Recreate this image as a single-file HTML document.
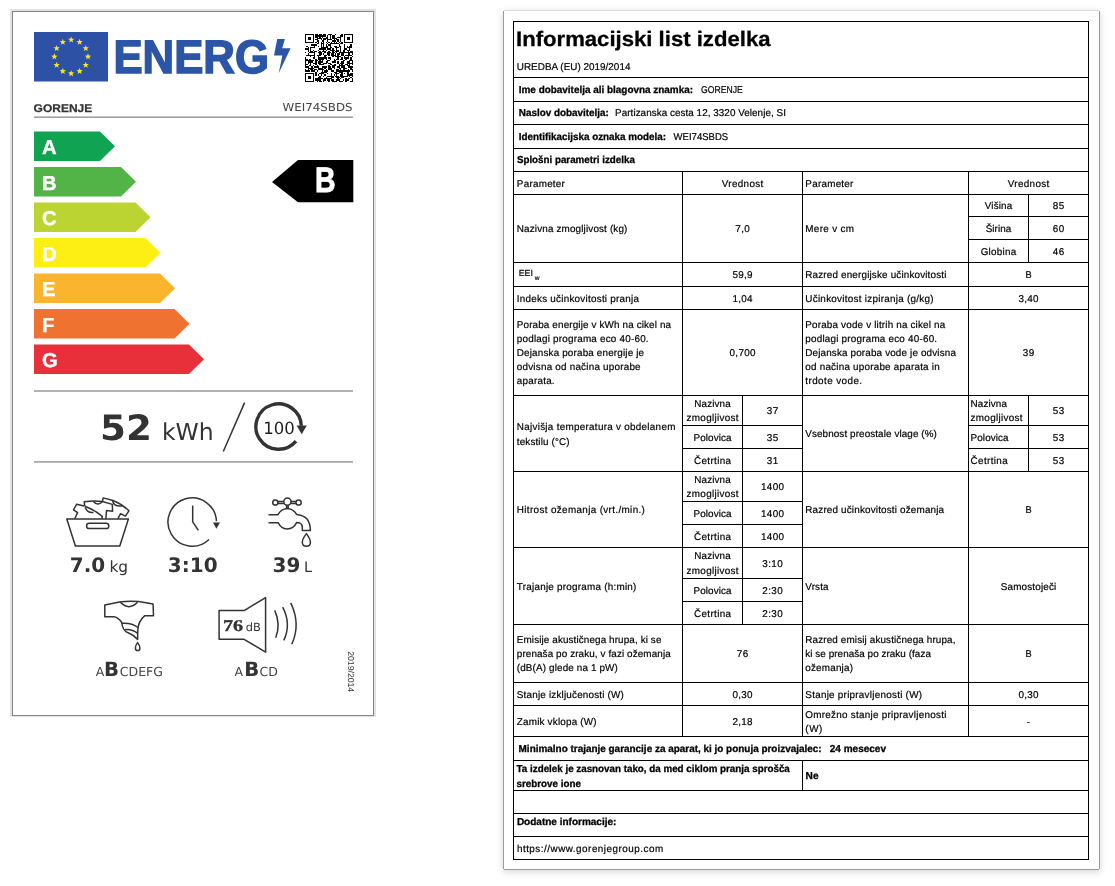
<!DOCTYPE html>
<html lang="sl">
<head>
<meta charset="utf-8">
<title>Energijska nalepka in informacijski list izdelka – GORENJE WEI74SBDS</title>
<style>
  html, body { margin: 0; padding: 0; background: #fff; }
  body { width: 1115px; height: 886px; position: relative; overflow: hidden; }
  .label-outer { position: absolute; left: 10px; top: 9px; width: 366px; height: 708px; box-sizing: border-box;
     border: 2px solid #e2e2e2; border-bottom-width: 1px; }
  .label-inner { position: absolute; left: 12px; top: 11px; width: 362px; height: 705px; box-sizing: border-box;
     border: 1px solid #858585; }
  .sheet { position: absolute; left: 504px; top: 11px; width: 595px; height: 858px; background: #fff;
     box-shadow: -1px 0 0 0 #9a9a9a, 1px 0 0 0 #9a9a9a, 0 1px 0 0 #9a9a9a, 0 -1px 0 0 #d8d8d8,
                 0 2px 7px 1px rgba(0,0,0,0.16); }
  svg.layer { will-change: transform; text-rendering: geometricPrecision; position: absolute; left: 0; top: 0; width: 1115px; height: 886px; overflow: visible; }
</style>
</head>
<body>
<div class="label-outer"></div>
<div class="label-inner"></div>
<div class="sheet"></div>
<svg class="layer" width="1115" height="886" viewBox="0 0 1115 886">
<g id="energy-label">
<rect x="34" y="32" width="74" height="49.5" fill="#2d52a5"/>
<g fill="#f5e62a"><polygon points="71.20,36.55 72.02,38.77 74.39,38.86 72.53,40.33 73.17,42.61 71.20,41.30 69.23,42.61 69.87,40.33 68.01,38.86 70.38,38.77"/><polygon points="79.60,38.80 80.42,41.02 82.79,41.12 80.93,42.58 81.57,44.86 79.60,43.55 77.63,44.86 78.27,42.58 76.41,41.12 78.78,41.02"/><polygon points="85.75,44.95 86.57,47.17 88.94,47.26 87.08,48.73 87.72,51.01 85.75,49.70 83.78,51.01 84.42,48.73 82.56,47.26 84.93,47.17"/><polygon points="88.00,53.35 88.82,55.57 91.19,55.66 89.33,57.13 89.97,59.41 88.00,58.10 86.03,59.41 86.67,57.13 84.81,55.66 87.18,55.57"/><polygon points="85.75,61.75 86.57,63.97 88.94,64.06 87.08,65.53 87.72,67.81 85.75,66.50 83.78,67.81 84.42,65.53 82.56,64.06 84.93,63.97"/><polygon points="79.60,67.90 80.42,70.12 82.79,70.21 80.93,71.68 81.57,73.96 79.60,72.65 77.63,73.96 78.27,71.68 76.41,70.21 78.78,70.12"/><polygon points="71.20,70.15 72.02,72.37 74.39,72.46 72.53,73.93 73.17,76.21 71.20,74.90 69.23,76.21 69.87,73.93 68.01,72.46 70.38,72.37"/><polygon points="62.80,67.90 63.62,70.12 65.99,70.21 64.13,71.68 64.77,73.96 62.80,72.65 60.83,73.96 61.47,71.68 59.61,70.21 61.98,70.12"/><polygon points="56.65,61.75 57.47,63.97 59.84,64.06 57.98,65.53 58.62,67.81 56.65,66.50 54.68,67.81 55.32,65.53 53.46,64.06 55.83,63.97"/><polygon points="54.40,53.35 55.22,55.57 57.59,55.66 55.73,57.13 56.37,59.41 54.40,58.10 52.43,59.41 53.07,57.13 51.21,55.66 53.58,55.57"/><polygon points="56.65,44.95 57.47,47.17 59.84,47.26 57.98,48.73 58.62,51.01 56.65,49.70 54.68,51.01 55.32,48.73 53.46,47.26 55.83,47.17"/><polygon points="62.80,38.80 63.62,41.02 65.99,41.12 64.13,42.58 64.77,44.86 62.80,43.55 60.83,44.86 61.47,42.58 59.61,41.12 61.98,41.02"/></g>
<text x="113.4" y="72.9" font-family="'Liberation Sans', Arial, sans-serif" font-weight="700" font-size="47" fill="#2b55a6" stroke="#2b55a6" stroke-width="1.5" textLength="155.5" lengthAdjust="spacingAndGlyphs">ENERG</text>
<polygon fill="#2b55a6" points="277.2,39 284.9,39 282.2,48.3 290.6,48.2 278.7,73.3 282.4,55.5 274,55.6"/>
<g transform="translate(305 34) scale(1.297)"><path d="M0 0h7v1h-7zM8 0h2v1h-2zM11 0h2v1h-2zM14 0h2v1h-2zM18 0h3v1h-3zM23 0h1v1h-1zM28 0h1v1h-1zM30 0h7v1h-7zM0 1h1v1h-1zM6 1h1v1h-1zM8 1h8v1h-8zM17 1h1v1h-1zM19 1h1v1h-1zM21 1h2v1h-2zM27 1h2v1h-2zM30 1h1v1h-1zM36 1h1v1h-1zM0 2h1v1h-1zM2 2h3v1h-3zM6 2h1v1h-1zM8 2h2v1h-2zM11 2h1v1h-1zM13 2h1v1h-1zM16 2h2v1h-2zM19 2h1v1h-1zM21 2h2v1h-2zM25 2h3v1h-3zM30 2h1v1h-1zM32 2h3v1h-3zM36 2h1v1h-1zM0 3h1v1h-1zM2 3h3v1h-3zM6 3h1v1h-1zM9 3h4v1h-4zM14 3h4v1h-4zM19 3h1v1h-1zM21 3h4v1h-4zM27 3h1v1h-1zM30 3h1v1h-1zM32 3h3v1h-3zM36 3h1v1h-1zM0 4h1v1h-1zM2 4h3v1h-3zM6 4h1v1h-1zM8 4h2v1h-2zM12 4h1v1h-1zM14 4h2v1h-2zM17 4h4v1h-4zM22 4h1v1h-1zM24 4h2v1h-2zM27 4h1v1h-1zM30 4h1v1h-1zM32 4h3v1h-3zM36 4h1v1h-1zM0 5h1v1h-1zM6 5h1v1h-1zM9 5h2v1h-2zM13 5h2v1h-2zM17 5h1v1h-1zM21 5h3v1h-3zM25 5h1v1h-1zM27 5h1v1h-1zM30 5h1v1h-1zM36 5h1v1h-1zM0 6h7v1h-7zM8 6h1v1h-1zM10 6h1v1h-1zM12 6h1v1h-1zM14 6h1v1h-1zM16 6h1v1h-1zM18 6h1v1h-1zM20 6h1v1h-1zM22 6h1v1h-1zM24 6h1v1h-1zM26 6h1v1h-1zM28 6h1v1h-1zM30 6h7v1h-7zM9 7h2v1h-2zM12 7h3v1h-3zM17 7h1v1h-1zM19 7h7v1h-7zM27 7h2v1h-2zM5 8h4v1h-4zM12 8h1v1h-1zM14 8h1v1h-1zM16 8h1v1h-1zM18 8h2v1h-2zM26 8h1v1h-1zM30 8h1v1h-1zM35 8h1v1h-1zM1 9h1v1h-1zM7 9h1v1h-1zM10 9h1v1h-1zM12 9h1v1h-1zM14 9h1v1h-1zM16 9h2v1h-2zM19 9h1v1h-1zM22 9h3v1h-3zM26 9h2v1h-2zM30 9h1v1h-1zM32 9h1v1h-1zM34 9h2v1h-2zM2 10h1v1h-1zM4 10h4v1h-4zM12 10h6v1h-6zM19 10h2v1h-2zM23 10h3v1h-3zM27 10h1v1h-1zM30 10h1v1h-1zM32 10h4v1h-4zM0 11h3v1h-3zM4 11h1v1h-1zM11 11h5v1h-5zM17 11h3v1h-3zM21 11h1v1h-1zM24 11h1v1h-1zM27 11h1v1h-1zM30 11h2v1h-2zM34 11h1v1h-1zM2 12h1v1h-1zM4 12h1v1h-1zM6 12h1v1h-1zM10 12h1v1h-1zM14 12h1v1h-1zM16 12h1v1h-1zM19 12h4v1h-4zM24 12h2v1h-2zM27 12h1v1h-1zM29 12h2v1h-2zM32 12h3v1h-3zM2 13h1v1h-1zM4 13h2v1h-2zM7 13h2v1h-2zM11 13h1v1h-1zM13 13h3v1h-3zM18 13h1v1h-1zM21 13h1v1h-1zM23 13h3v1h-3zM27 13h1v1h-1zM29 13h2v1h-2zM33 13h1v1h-1zM35 13h2v1h-2zM0 14h1v1h-1zM3 14h5v1h-5zM10 14h3v1h-3zM15 14h1v1h-1zM17 14h3v1h-3zM21 14h2v1h-2zM24 14h1v1h-1zM26 14h11v1h-11zM2 15h1v1h-1zM7 15h1v1h-1zM11 15h2v1h-2zM14 15h1v1h-1zM17 15h2v1h-2zM20 15h2v1h-2zM23 15h1v1h-1zM25 15h2v1h-2zM28 15h2v1h-2zM33 15h2v1h-2zM36 15h1v1h-1zM1 16h7v1h-7zM9 16h3v1h-3zM15 16h2v1h-2zM18 16h1v1h-1zM20 16h4v1h-4zM25 16h1v1h-1zM28 16h2v1h-2zM31 16h5v1h-5zM4 17h1v1h-1zM7 17h1v1h-1zM10 17h1v1h-1zM15 17h1v1h-1zM21 17h1v1h-1zM23 17h5v1h-5zM30 17h1v1h-1zM33 17h1v1h-1zM36 17h1v1h-1zM0 18h1v1h-1zM6 18h2v1h-2zM10 18h7v1h-7zM18 18h2v1h-2zM25 18h1v1h-1zM28 18h1v1h-1zM30 18h4v1h-4zM35 18h1v1h-1zM0 19h2v1h-2zM3 19h2v1h-2zM8 19h1v1h-1zM10 19h5v1h-5zM16 19h1v1h-1zM19 19h1v1h-1zM22 19h1v1h-1zM24 19h2v1h-2zM27 19h2v1h-2zM31 19h1v1h-1zM35 19h1v1h-1zM0 20h7v1h-7zM8 20h2v1h-2zM11 20h1v1h-1zM13 20h1v1h-1zM17 20h2v1h-2zM22 20h2v1h-2zM29 20h2v1h-2zM34 20h3v1h-3zM0 21h1v1h-1zM2 21h4v1h-4zM8 21h1v1h-1zM10 21h4v1h-4zM16 21h2v1h-2zM21 21h3v1h-3zM25 21h1v1h-1zM28 21h2v1h-2zM32 21h3v1h-3zM36 21h1v1h-1zM0 22h1v1h-1zM2 22h1v1h-1zM4 22h1v1h-1zM6 22h3v1h-3zM10 22h2v1h-2zM14 22h3v1h-3zM18 22h2v1h-2zM25 22h1v1h-1zM27 22h3v1h-3zM32 22h5v1h-5zM0 23h2v1h-2zM4 23h1v1h-1zM8 23h1v1h-1zM11 23h4v1h-4zM19 23h2v1h-2zM22 23h2v1h-2zM26 23h1v1h-1zM28 23h1v1h-1zM31 23h2v1h-2zM34 23h1v1h-1zM36 23h1v1h-1zM0 24h1v1h-1zM3 24h2v1h-2zM6 24h1v1h-1zM9 24h1v1h-1zM18 24h1v1h-1zM21 24h3v1h-3zM26 24h5v1h-5zM32 24h3v1h-3zM0 25h3v1h-3zM5 25h1v1h-1zM7 25h4v1h-4zM13 25h4v1h-4zM18 25h2v1h-2zM21 25h2v1h-2zM25 25h2v1h-2zM28 25h3v1h-3zM33 25h4v1h-4zM2 26h5v1h-5zM10 26h4v1h-4zM15 26h1v1h-1zM18 26h3v1h-3zM22 26h1v1h-1zM26 26h2v1h-2zM29 26h3v1h-3zM35 26h1v1h-1zM0 27h1v1h-1zM2 27h1v1h-1zM4 27h2v1h-2zM7 27h2v1h-2zM10 27h5v1h-5zM16 27h1v1h-1zM18 27h3v1h-3zM24 27h2v1h-2zM27 27h1v1h-1zM29 27h2v1h-2zM33 27h1v1h-1zM35 27h2v1h-2zM0 28h4v1h-4zM5 28h3v1h-3zM9 28h1v1h-1zM13 28h1v1h-1zM15 28h3v1h-3zM20 28h2v1h-2zM24 28h11v1h-11zM36 28h1v1h-1zM8 29h1v1h-1zM12 29h5v1h-5zM22 29h3v1h-3zM26 29h3v1h-3zM32 29h2v1h-2zM0 30h7v1h-7zM8 30h1v1h-1zM11 30h4v1h-4zM17 30h1v1h-1zM20 30h1v1h-1zM23 30h3v1h-3zM28 30h1v1h-1zM30 30h1v1h-1zM32 30h2v1h-2zM35 30h2v1h-2zM0 31h1v1h-1zM6 31h1v1h-1zM8 31h1v1h-1zM10 31h1v1h-1zM12 31h1v1h-1zM15 31h1v1h-1zM20 31h1v1h-1zM22 31h1v1h-1zM24 31h1v1h-1zM27 31h2v1h-2zM32 31h5v1h-5zM0 32h1v1h-1zM2 32h3v1h-3zM6 32h1v1h-1zM11 32h1v1h-1zM14 32h1v1h-1zM17 32h5v1h-5zM23 32h3v1h-3zM27 32h6v1h-6zM34 32h1v1h-1zM36 32h1v1h-1zM0 33h1v1h-1zM2 33h3v1h-3zM6 33h1v1h-1zM10 33h2v1h-2zM16 33h1v1h-1zM20 33h2v1h-2zM24 33h3v1h-3zM28 33h2v1h-2zM35 33h1v1h-1zM0 34h1v1h-1zM2 34h3v1h-3zM6 34h1v1h-1zM8 34h6v1h-6zM15 34h6v1h-6zM25 34h1v1h-1zM27 34h1v1h-1zM31 34h1v1h-1zM33 34h2v1h-2zM36 34h1v1h-1zM0 35h1v1h-1zM6 35h1v1h-1zM8 35h4v1h-4zM14 35h2v1h-2zM17 35h2v1h-2zM20 35h2v1h-2zM24 35h3v1h-3zM29 35h1v1h-1zM31 35h3v1h-3zM36 35h1v1h-1zM0 36h7v1h-7zM9 36h1v1h-1zM11 36h2v1h-2zM14 36h1v1h-1zM18 36h1v1h-1zM21 36h4v1h-4zM26 36h3v1h-3zM31 36h1v1h-1zM35 36h2v1h-2z" fill="#000" shape-rendering="crispEdges"/></g>
<text x="33.6" y="111.8" font-family="'Liberation Sans', Arial, sans-serif" font-weight="700" font-size="11.2" fill="#333" stroke="#333" stroke-width="0.25" textLength="58.6" lengthAdjust="spacingAndGlyphs">GORENJE</text>
<text x="282.6" y="111.2" font-family="'DejaVu Sans', 'Liberation Sans', sans-serif" font-size="11" fill="#444" textLength="70" lengthAdjust="spacingAndGlyphs">WEI74SBDS</text>
<rect x="34" y="116.5" width="319" height="1.3" fill="#8a8a8a"/>
<polygon fill="#10a452" points="34,131.5 100.0,131.5 115.0,146.30 100.0,161.10 34,161.10"/>
<text x="42" y="154.1" font-family="'Liberation Sans', Arial, sans-serif" font-weight="700" font-size="20.2" fill="#fff" stroke="#fff" stroke-width="0.4">A</text>
<polygon fill="#52b447" points="34,167.0 121.0,167.0 136.0,181.80 121.0,196.60 34,196.60"/>
<text x="42" y="189.6" font-family="'Liberation Sans', Arial, sans-serif" font-weight="700" font-size="20.2" fill="#fff" stroke="#fff" stroke-width="0.4">B</text>
<polygon fill="#bcd432" points="34,202.5 135.5,202.5 150.5,217.30 135.5,232.10 34,232.10"/>
<text x="42" y="225.1" font-family="'Liberation Sans', Arial, sans-serif" font-weight="700" font-size="20.2" fill="#fff" stroke="#fff" stroke-width="0.4">C</text>
<polygon fill="#fdee13" points="34,238.0 145.5,238.0 160.5,252.80 145.5,267.60 34,267.60"/>
<text x="42" y="260.6" font-family="'Liberation Sans', Arial, sans-serif" font-weight="700" font-size="20.2" fill="#fff" stroke="#fff" stroke-width="0.4">D</text>
<polygon fill="#fbb42e" points="34,273.5 160.0,273.5 175.0,288.30 160.0,303.10 34,303.10"/>
<text x="42" y="296.1" font-family="'Liberation Sans', Arial, sans-serif" font-weight="700" font-size="20.2" fill="#fff" stroke="#fff" stroke-width="0.4">E</text>
<polygon fill="#f07231" points="34,309.0 174.5,309.0 189.5,323.80 174.5,338.60 34,338.60"/>
<text x="42" y="331.6" font-family="'Liberation Sans', Arial, sans-serif" font-weight="700" font-size="20.2" fill="#fff" stroke="#fff" stroke-width="0.4">F</text>
<polygon fill="#e8303a" points="34,344.5 189.0,344.5 204.0,359.30 189.0,374.10 34,374.10"/>
<text x="42" y="367.1" font-family="'Liberation Sans', Arial, sans-serif" font-weight="700" font-size="20.2" fill="#fff" stroke="#fff" stroke-width="0.4">G</text>
<polygon fill="#000" points="272,182 298,160 353.3,160 353.3,202.2 298,202.2"/>
<text x="315.0" y="192.3" font-family="'Liberation Sans', Arial, sans-serif" font-weight="700" font-size="35.5" fill="#fff" stroke="#fff" stroke-width="0.9" textLength="20.6" lengthAdjust="spacingAndGlyphs">B</text>
<rect x="34" y="390.2" width="319" height="1.6" fill="#a0a0a0"/>
<rect x="34" y="461.1" width="319" height="1.6" fill="#a0a0a0"/>
<text x="100" y="440" font-family="'DejaVu Sans', 'Liberation Sans', sans-serif" font-weight="700" font-size="35" fill="#333" textLength="51.9" lengthAdjust="spacingAndGlyphs">52</text>
<text x="161.9" y="440" font-family="'DejaVu Sans', 'Liberation Sans', sans-serif" font-size="23.5" fill="#333">kWh</text>
<line x1="223.3" y1="451.5" x2="244.6" y2="402.6" stroke="#333" stroke-width="1.5"/>
<path d="M295.99,441.19 A22.7,22.7 0 1 1 301.29,425.81" fill="none" stroke="#333" stroke-width="3.4"/>
<polygon fill="#333" points="296.6,425.6 306.8,425.6 301.7,434.2"/>
<text x="263.3" y="433.7" font-family="'DejaVu Sans', 'Liberation Sans', sans-serif" font-size="16.8" fill="#222" textLength="31.5" lengthAdjust="spacingAndGlyphs">100</text>
<g fill="none" stroke="#333" stroke-width="1.5" stroke-linejoin="round"><path d="M66.8,519 L128.4,519 L119.8,546 L75.4,546 Z"/><rect x="86.6" y="523.3" width="22.2" height="5.2" rx="2.6"/><path d="M74.7,518.7 L77.6,512.6 L73.5,509.8 L76.6,504.3 L84.2,505.9"/><path d="M84.7,506.2 L84.2,501.7 Q93,500.6 102.4,501.5 L112.3,504.4 L112.6,511.3 L106.5,510.6 L105.9,518.7"/><path d="M84.7,506.2 Q95,510 102.4,516.5 L101.6,518.7"/><path d="M85.3,507.3 C86.5,511.3 89.5,512.9 93.5,512.4"/><path d="M93.4,501.4 Q98,506.6 102.5,501.6"/><path d="M102.4,501.5 L103.2,497.9 L113,500.5 Q122,504 128.9,510.8 L125.4,516.2 L120.6,513.7 L117.9,518.7"/><path d="M112.6,501.0 C113.6,505 117.5,506.6 122.3,505.9"/><path d="M209.01,539.51 A24.2,24.2 0 1 1 216.39,521.26"/><polyline points="192.7,505.6 192.7,521.8 198.4,530.3"/><circle cx="275.3" cy="502.5" r="2.6"/><circle cx="287.4" cy="501.6" r="3.6"/><circle cx="298.6" cy="502.5" r="2.6"/><path d="M277.9,501.6 L283.8,501.6 M277.9,503.5 L284.2,503.5 M291,501.6 L296,501.6 M290.6,503.5 L296,503.5"/><path d="M286.6,505.2 L286.6,508.3 M288.2,505.2 L288.2,508.3"/><path d="M268.5,514.7 L278,514.7 Q281,509 287.4,508.6 Q293.5,509 296.6,514.4 Q303,514.8 307,519 Q310.4,523.5 310.4,530.6 L302.3,530.6 L302.3,526.5 Q301.5,522.5 296.6,522.6 Q293.5,528.9 287.2,528.9 Q281,528.9 278.3,522.8 L268.5,522.8"/><path d="M306.4,533.6 Q302.3,539 302.3,542.2 Q302.3,546.2 306.4,546.2 Q310.4,546.2 310.4,542.2 Q310.4,539 306.4,533.6 Z"/><path d="M104.8,605 L119.4,602 Q129,600.8 138.6,601.6 L153.1,604 L153.5,615.8 L144.6,615.8 Q138.3,621 137.8,630 L137.6,639.4 Q133,634.5 127.6,632.5 Q122.6,630.4 121.7,622.5 Q118.6,617.5 114,616.8 L104.8,616.8 Z"/><path d="M120.3,602.3 Q129,611 137.6,602.3"/><path d="M121.9,623.3 Q131.5,622.5 137.9,627.5 M124.5,629.7 Q132,628.8 137.6,633.4"/><path d="M137.6,642.6 Q135.4,645.5 135.4,647.9 Q135.4,650.6 137.6,650.6 Q139.9,650.6 139.9,647.9 Q139.9,645.5 137.6,642.6 Z"/><path d="M219.1,610.6 L244.1,610.6 L265.6,597.6 L265.6,652.2 L244.1,639.3 L219.1,639.3 Z"/><path d="M274.7,610.4 Q281,624 275.7,637.8"/><path d="M282.7,607.1 Q291.5,624 283.8,640.4"/><path d="M290.7,602.9 Q301,624 291.8,644.2"/></g>
<polygon fill="#333" points="213,522.4 220,522.4 216.4,528.8"/>
<text x="69.8" y="571.7" font-family="'DejaVu Sans', 'Liberation Sans', sans-serif" font-weight="700" font-size="20" fill="#333">7.0</text>
<text x="109.4" y="571.7" font-family="'DejaVu Sans', 'Liberation Sans', sans-serif" font-size="15.4" fill="#333">kg</text>
<text x="167.8" y="571.7" font-family="'DejaVu Sans', 'Liberation Sans', sans-serif" font-weight="700" font-size="20" fill="#333">3:10</text>
<text x="272.5" y="571.7" font-family="'DejaVu Sans', 'Liberation Sans', sans-serif" font-weight="700" font-size="20" fill="#333">39</text>
<text x="304" y="571.7" font-family="'DejaVu Sans', 'Liberation Sans', sans-serif" font-size="14.4" fill="#333">L</text>
<text x="222.9" y="630.9" font-family="Liberation Serif, serif" font-weight="700" font-size="16.4" fill="#333" stroke="#333" stroke-width="0.3" textLength="20.2" lengthAdjust="spacingAndGlyphs">76</text>
<text x="245.7" y="630.7" font-family="'DejaVu Sans', 'Liberation Sans', sans-serif" font-size="11.4" fill="#333">dB</text>
<text y="675.8" font-family="'DejaVu Sans', 'Liberation Sans', sans-serif" fill="#444"><tspan x="95.8" font-size="12.5">A</tspan><tspan x="103.9" font-size="19.7" font-weight="700" fill="#333">B</tspan><tspan x="119.8" font-size="12.5">CDEFG</tspan></text>
<text y="675.8" font-family="'DejaVu Sans', 'Liberation Sans', sans-serif" fill="#444"><tspan x="234.5" font-size="12.5">A</tspan><tspan x="244.3" font-size="19.7" font-weight="700" fill="#333">B</tspan><tspan x="259.6" font-size="12.5">CD</tspan></text>
<text transform="translate(348.2 651.2) rotate(90)" font-family="'Liberation Sans', Arial, sans-serif" font-size="8.6" fill="#333" textLength="41" lengthAdjust="spacingAndGlyphs">2019/2014</text>
</g>
<g id="product-sheet" fill="#000">
<rect x="513" y="21" width="576" height="1"/>
<rect x="513" y="77" width="576" height="1"/>
<rect x="513" y="101" width="576" height="1"/>
<rect x="513" y="124" width="576" height="1"/>
<rect x="513" y="148" width="576" height="1"/>
<rect x="513" y="171" width="576" height="1"/>
<rect x="513" y="194" width="576" height="1"/>
<rect x="513" y="262" width="576" height="1"/>
<rect x="513" y="286" width="576" height="1"/>
<rect x="513" y="309" width="576" height="1"/>
<rect x="513" y="395" width="576" height="1"/>
<rect x="513" y="471" width="576" height="1"/>
<rect x="513" y="547" width="576" height="1"/>
<rect x="513" y="624" width="576" height="1"/>
<rect x="513" y="682" width="576" height="1"/>
<rect x="513" y="705" width="576" height="1"/>
<rect x="513" y="736" width="576" height="1"/>
<rect x="513" y="760" width="576" height="1"/>
<rect x="513" y="790" width="576" height="1"/>
<rect x="513" y="813" width="576" height="1"/>
<rect x="513" y="836" width="576" height="1"/>
<rect x="513" y="859" width="576" height="1"/>
<rect x="968" y="216" width="121" height="1"/>
<rect x="968" y="239" width="121" height="1"/>
<rect x="682" y="425" width="121" height="1"/>
<rect x="682" y="448" width="121" height="1"/>
<rect x="968" y="425" width="121" height="1"/>
<rect x="968" y="448" width="121" height="1"/>
<rect x="682" y="501" width="121" height="1"/>
<rect x="682" y="524" width="121" height="1"/>
<rect x="682" y="578" width="121" height="1"/>
<rect x="682" y="601" width="121" height="1"/>
<rect x="513" y="21" width="1" height="839"/>
<rect x="1088" y="21" width="1" height="839"/>
<rect x="682" y="171" width="1" height="566"/>
<rect x="802" y="171" width="1" height="566"/>
<rect x="968" y="171" width="1" height="566"/>
<rect x="742" y="395" width="1" height="230"/>
<rect x="1028" y="194" width="1" height="69"/>
<rect x="1028" y="395" width="1" height="77"/>
<rect x="802" y="760" width="1" height="31"/>
<g font-family="&quot;Liberation Sans&quot;, Arial, sans-serif" fill="#000" stroke="#000" stroke-width="0.2">
<text x="516.0" y="46.3" font-size="21" font-weight="700" stroke-width="0.3" textLength="254.5" lengthAdjust="spacingAndGlyphs">Informacijski list izdelka</text>
<text x="516.8" y="69.7" font-size="9.9" textLength="113.6" lengthAdjust="spacing">UREDBA (EU) 2019/2014</text>
<text x="518.8" y="92.8" font-size="10.1" font-weight="700" stroke-width="0.3" textLength="174.2" lengthAdjust="spacingAndGlyphs">Ime dobavitelja ali blagovna znamka:</text>
<text x="701.0" y="92.8" font-size="9.9" textLength="41.8" lengthAdjust="spacingAndGlyphs">GORENJE</text>
<text x="518.8" y="115.5" font-size="10.1" font-weight="700" stroke-width="0.3" textLength="90.1" lengthAdjust="spacingAndGlyphs">Naslov dobavitelja:</text>
<text x="615.1" y="115.5" font-size="9.9" textLength="170.8" lengthAdjust="spacing">Partizanska cesta 12, 3320 Velenje, SI</text>
<text x="518.8" y="139.9" font-size="10.1" font-weight="700" stroke-width="0.3" textLength="147.2" lengthAdjust="spacingAndGlyphs">Identifikacijska oznaka modela:</text>
<text x="673.6" y="139.9" font-size="9.9" textLength="54.6" lengthAdjust="spacingAndGlyphs">WEI74SBDS</text>
<text x="516.9" y="163.4" font-size="10.1" font-weight="700" stroke-width="0.3" textLength="118.0" lengthAdjust="spacingAndGlyphs">Splošni parametri izdelka</text>
<text x="516.8" y="186.8" font-size="9.9" textLength="48.1" lengthAdjust="spacing">Parameter</text>
<text x="742.5" y="186.8" font-size="9.9" text-anchor="middle" textLength="41.6" lengthAdjust="spacing">Vrednost</text>
<text x="805.3" y="186.8" font-size="9.9" textLength="48.1" lengthAdjust="spacing">Parameter</text>
<text x="1028.5" y="186.8" font-size="9.9" text-anchor="middle" textLength="41.6" lengthAdjust="spacing">Vrednost</text>
<text x="516.8" y="232.25" font-size="9.9" textLength="110.6" lengthAdjust="spacing">Nazivna zmogljivost (kg)</text>
<text x="742.5" y="232.25" font-size="9.9" text-anchor="middle" textLength="14.3" lengthAdjust="spacing">7,0</text>
<text x="805.3" y="232.25" font-size="9.9" textLength="48.8" lengthAdjust="spacing">Mere v cm</text>
<text x="998.5" y="209.3" font-size="9.9" text-anchor="middle" textLength="27.4" lengthAdjust="spacing">Višina</text>
<text x="1058.5" y="209.3" font-size="9.9" text-anchor="middle" textLength="11.5" lengthAdjust="spacing">85</text>
<text x="998.5" y="231.9" font-size="9.9" text-anchor="middle" textLength="25.7" lengthAdjust="spacing">Širina</text>
<text x="1058.5" y="231.9" font-size="9.9" text-anchor="middle" textLength="11.5" lengthAdjust="spacing">60</text>
<text x="998.5" y="254.85" font-size="9.9" text-anchor="middle" textLength="35.7" lengthAdjust="spacing">Globina</text>
<text x="1058.5" y="254.85" font-size="9.9" text-anchor="middle" textLength="11.5" lengthAdjust="spacing">46</text>
<text x="518.7" y="276.1" font-size="8.8" textLength="14.2" lengthAdjust="spacing">EEI</text>
<text x="534.8" y="279.8" font-size="6.6" textLength="5.6" lengthAdjust="spacing">w</text>
<text x="742.5" y="278.4" font-size="9.9" text-anchor="middle" textLength="20.1" lengthAdjust="spacing">59,9</text>
<text x="805.3" y="278.4" font-size="9.9" textLength="141.1" lengthAdjust="spacing">Razred energijske učinkovitosti</text>
<text x="1028.5" y="278.4" font-size="9.9" text-anchor="middle" textLength="6.2" lengthAdjust="spacingAndGlyphs">B</text>
<text x="516.8" y="301.9" font-size="9.9" textLength="122.2" lengthAdjust="spacing">Indeks učinkovitosti pranja</text>
<text x="742.5" y="301.9" font-size="9.9" text-anchor="middle" textLength="20.1" lengthAdjust="spacing">1,04</text>
<text x="805.3" y="301.9" font-size="9.9" textLength="128.3" lengthAdjust="spacing">Učinkovitost izpiranja (g/kg)</text>
<text x="1028.5" y="301.9" font-size="9.9" text-anchor="middle" textLength="20.1" lengthAdjust="spacing">3,40</text>
<text x="516.8" y="327.9" font-size="9.9" textLength="154.3" lengthAdjust="spacing">Poraba energije v kWh na cikel na</text>
<text x="516.8" y="341.9" font-size="9.9" textLength="131.8" lengthAdjust="spacing">podlagi programa eco 40-60.</text>
<text x="516.8" y="355.8" font-size="9.9" textLength="127.3" lengthAdjust="spacing">Dejanska poraba energije je</text>
<text x="516.8" y="369.7" font-size="9.9" textLength="123.8" lengthAdjust="spacing">odvisna od načina uporabe</text>
<text x="516.8" y="383.8" font-size="9.9" textLength="37.8" lengthAdjust="spacing">aparata.</text>
<text x="742.5" y="356.4" font-size="9.9" text-anchor="middle" textLength="25.8" lengthAdjust="spacing">0,700</text>
<text x="805.3" y="327.9" font-size="9.9" textLength="139.9" lengthAdjust="spacing">Poraba vode v litrih na cikel na</text>
<text x="805.3" y="341.9" font-size="9.9" textLength="131.8" lengthAdjust="spacing">podlagi programa eco 40-60.</text>
<text x="805.3" y="355.8" font-size="9.9" textLength="150.6" lengthAdjust="spacing">Dejanska poraba vode je odvisna</text>
<text x="805.3" y="369.7" font-size="9.9" textLength="134.4" lengthAdjust="spacing">od načina uporabe aparata in</text>
<text x="805.3" y="383.8" font-size="9.9" textLength="56.8" lengthAdjust="spacing">trdote vode.</text>
<text x="1028.5" y="356.4" font-size="9.9" text-anchor="middle" textLength="11.5" lengthAdjust="spacing">39</text>
<text x="516.8" y="429.6" font-size="9.9" textLength="158.6" lengthAdjust="spacing">Najvišja temperatura v obdelanem</text>
<text x="516.8" y="444.6" font-size="9.9" textLength="52.8" lengthAdjust="spacing">tekstilu (°C)</text>
<text x="712.5" y="406.8" font-size="9.9" text-anchor="middle" textLength="36.3" lengthAdjust="spacing">Nazivna</text>
<text x="712.5" y="421.3" font-size="9.9" text-anchor="middle" textLength="51.8" lengthAdjust="spacing">zmogljivost</text>
<text x="712.5" y="440.9" font-size="9.9" text-anchor="middle" textLength="38.0" lengthAdjust="spacing">Polovica</text>
<text x="712.5" y="463.9" font-size="9.9" text-anchor="middle" textLength="37.1" lengthAdjust="spacing">Četrtina</text>
<text x="772.5" y="414.4" font-size="9.9" text-anchor="middle" textLength="11.5" lengthAdjust="spacing">37</text>
<text x="772.5" y="440.9" font-size="9.9" text-anchor="middle" textLength="11.5" lengthAdjust="spacing">35</text>
<text x="772.5" y="463.9" font-size="9.9" text-anchor="middle" textLength="11.5" lengthAdjust="spacing">31</text>
<text x="805.3" y="437.4" font-size="9.9" textLength="131.6" lengthAdjust="spacing">Vsebnost preostale vlage (%)</text>
<text x="970.6" y="406.75" font-size="9.9" textLength="36.3" lengthAdjust="spacing">Nazivna</text>
<text x="970.6" y="421.25" font-size="9.9" textLength="51.8" lengthAdjust="spacing">zmogljivost</text>
<text x="970.6" y="440.75" font-size="9.9" textLength="38.0" lengthAdjust="spacing">Polovica</text>
<text x="970.6" y="463.8" font-size="9.9" textLength="37.1" lengthAdjust="spacing">Četrtina</text>
<text x="1058.5" y="414.35" font-size="9.9" text-anchor="middle" textLength="11.5" lengthAdjust="spacing">53</text>
<text x="1058.5" y="440.75" font-size="9.9" text-anchor="middle" textLength="11.5" lengthAdjust="spacing">53</text>
<text x="1058.5" y="463.8" font-size="9.9" text-anchor="middle" textLength="11.5" lengthAdjust="spacing">53</text>
<text x="516.8" y="513.4" font-size="9.9" textLength="128.1" lengthAdjust="spacing">Hitrost ožemanja (vrt./min.)</text>
<text x="712.5" y="482.85" font-size="9.9" text-anchor="middle" textLength="36.3" lengthAdjust="spacing">Nazivna</text>
<text x="712.5" y="497.35" font-size="9.9" text-anchor="middle" textLength="51.8" lengthAdjust="spacing">zmogljivost</text>
<text x="712.5" y="517.05" font-size="9.9" text-anchor="middle" textLength="38.0" lengthAdjust="spacing">Polovica</text>
<text x="712.5" y="540.0" font-size="9.9" text-anchor="middle" textLength="37.1" lengthAdjust="spacing">Četrtina</text>
<text x="772.5" y="490.45" font-size="9.9" text-anchor="middle" textLength="23.0" lengthAdjust="spacing">1400</text>
<text x="772.5" y="517.05" font-size="9.9" text-anchor="middle" textLength="23.0" lengthAdjust="spacing">1400</text>
<text x="772.5" y="540.0" font-size="9.9" text-anchor="middle" textLength="23.0" lengthAdjust="spacing">1400</text>
<text x="805.3" y="513.4" font-size="9.9" textLength="138.8" lengthAdjust="spacing">Razred učinkovitosti ožemanja</text>
<text x="1028.5" y="513.4" font-size="9.9" text-anchor="middle" textLength="6.2" lengthAdjust="spacingAndGlyphs">B</text>
<text x="516.8" y="589.9" font-size="9.9" textLength="119.6" lengthAdjust="spacing">Trajanje programa (h:min)</text>
<text x="712.5" y="559.25" font-size="9.9" text-anchor="middle" textLength="36.3" lengthAdjust="spacing">Nazivna</text>
<text x="712.5" y="573.75" font-size="9.9" text-anchor="middle" textLength="51.8" lengthAdjust="spacing">zmogljivost</text>
<text x="712.5" y="593.75" font-size="9.9" text-anchor="middle" textLength="38.0" lengthAdjust="spacing">Polovica</text>
<text x="712.5" y="616.8" font-size="9.9" text-anchor="middle" textLength="37.1" lengthAdjust="spacing">Četrtina</text>
<text x="772.5" y="566.85" font-size="9.9" text-anchor="middle" textLength="20.3" lengthAdjust="spacing">3:10</text>
<text x="772.5" y="593.75" font-size="9.9" text-anchor="middle" textLength="20.3" lengthAdjust="spacing">2:30</text>
<text x="772.5" y="616.8" font-size="9.9" text-anchor="middle" textLength="20.3" lengthAdjust="spacing">2:30</text>
<text x="805.3" y="589.9" font-size="9.9" textLength="23.3" lengthAdjust="spacing">Vrsta</text>
<text x="1028.5" y="589.9" font-size="9.9" text-anchor="middle" textLength="55.4" lengthAdjust="spacing">Samostoječi</text>
<text x="516.8" y="642.8" font-size="9.9" textLength="144.6" lengthAdjust="spacing">Emisije akustičnega hrupa, ki se</text>
<text x="516.8" y="657.0" font-size="9.9" textLength="153.9" lengthAdjust="spacing">prenaša po zraku, v fazi ožemanja</text>
<text x="516.8" y="671.4" font-size="9.9" textLength="101.0" lengthAdjust="spacing">(dB(A) glede na 1 pW)</text>
<text x="742.5" y="657.35" font-size="9.9" text-anchor="middle" textLength="11.5" lengthAdjust="spacing">76</text>
<text x="805.3" y="642.8" font-size="9.9" textLength="150.2" lengthAdjust="spacing">Razred emisij akustičnega hrupa,</text>
<text x="805.3" y="657.0" font-size="9.9" textLength="125.6" lengthAdjust="spacing">ki se prenaša po zraku (faza</text>
<text x="805.3" y="671.4" font-size="9.9" textLength="47.7" lengthAdjust="spacing">ožemanja)</text>
<text x="1028.5" y="657.35" font-size="9.9" text-anchor="middle" textLength="6.2" lengthAdjust="spacingAndGlyphs">B</text>
<text x="516.8" y="697.83" font-size="9.9" textLength="107.1" lengthAdjust="spacing">Stanje izključenosti (W)</text>
<text x="742.5" y="697.83" font-size="9.9" text-anchor="middle" textLength="20.1" lengthAdjust="spacing">0,30</text>
<text x="805.3" y="697.83" font-size="9.9" textLength="116.7" lengthAdjust="spacing">Stanje pripravljenosti (W)</text>
<text x="1028.5" y="697.83" font-size="9.9" text-anchor="middle" textLength="20.1" lengthAdjust="spacing">0,30</text>
<text x="516.8" y="724.83" font-size="9.9" textLength="79.8" lengthAdjust="spacing">Zamik vklopa (W)</text>
<text x="742.5" y="724.83" font-size="9.9" text-anchor="middle" textLength="20.1" lengthAdjust="spacing">2,18</text>
<text x="805.3" y="717.9" font-size="9.9" textLength="141.1" lengthAdjust="spacing">Omrežno stanje pripravljenosti</text>
<text x="805.3" y="731.7" font-size="9.9" textLength="17.0" lengthAdjust="spacing">(W)</text>
<text x="1028.5" y="724.83" font-size="9.9" text-anchor="middle" textLength="3.5" lengthAdjust="spacing">-</text>
<text x="518.6" y="752.0" font-size="10.1" font-weight="700" stroke-width="0.3" textLength="303.0" lengthAdjust="spacingAndGlyphs">Minimalno trajanje garancije za aparat, ki jo ponuja proizvajalec:</text>
<text x="829.8" y="752.0" font-size="10.1" font-weight="700" stroke-width="0.3" textLength="56.2" lengthAdjust="spacingAndGlyphs">24 mesecev</text>
<text x="516.6" y="771.7" font-size="10.1" font-weight="700" stroke-width="0.3" textLength="273.2" lengthAdjust="spacingAndGlyphs">Ta izdelek je zasnovan tako, da med ciklom pranja sprošča</text>
<text x="516.6" y="787.1" font-size="10.1" font-weight="700" stroke-width="0.3" textLength="64.3" lengthAdjust="spacingAndGlyphs">srebrove ione</text>
<text x="805.5" y="779.38" font-size="10.1" font-weight="700" stroke-width="0.3" textLength="13.2" lengthAdjust="spacing">Ne</text>
<text x="516.9" y="824.8" font-size="10.1" font-weight="700" stroke-width="0.3" textLength="99.5" lengthAdjust="spacingAndGlyphs">Dodatne informacije:</text>
<text x="516.9" y="852.3" font-size="9.9" textLength="146.3" lengthAdjust="spacing">https://www.gorenjegroup.com</text>
</g>
</g>
</svg>
</body>
</html>
